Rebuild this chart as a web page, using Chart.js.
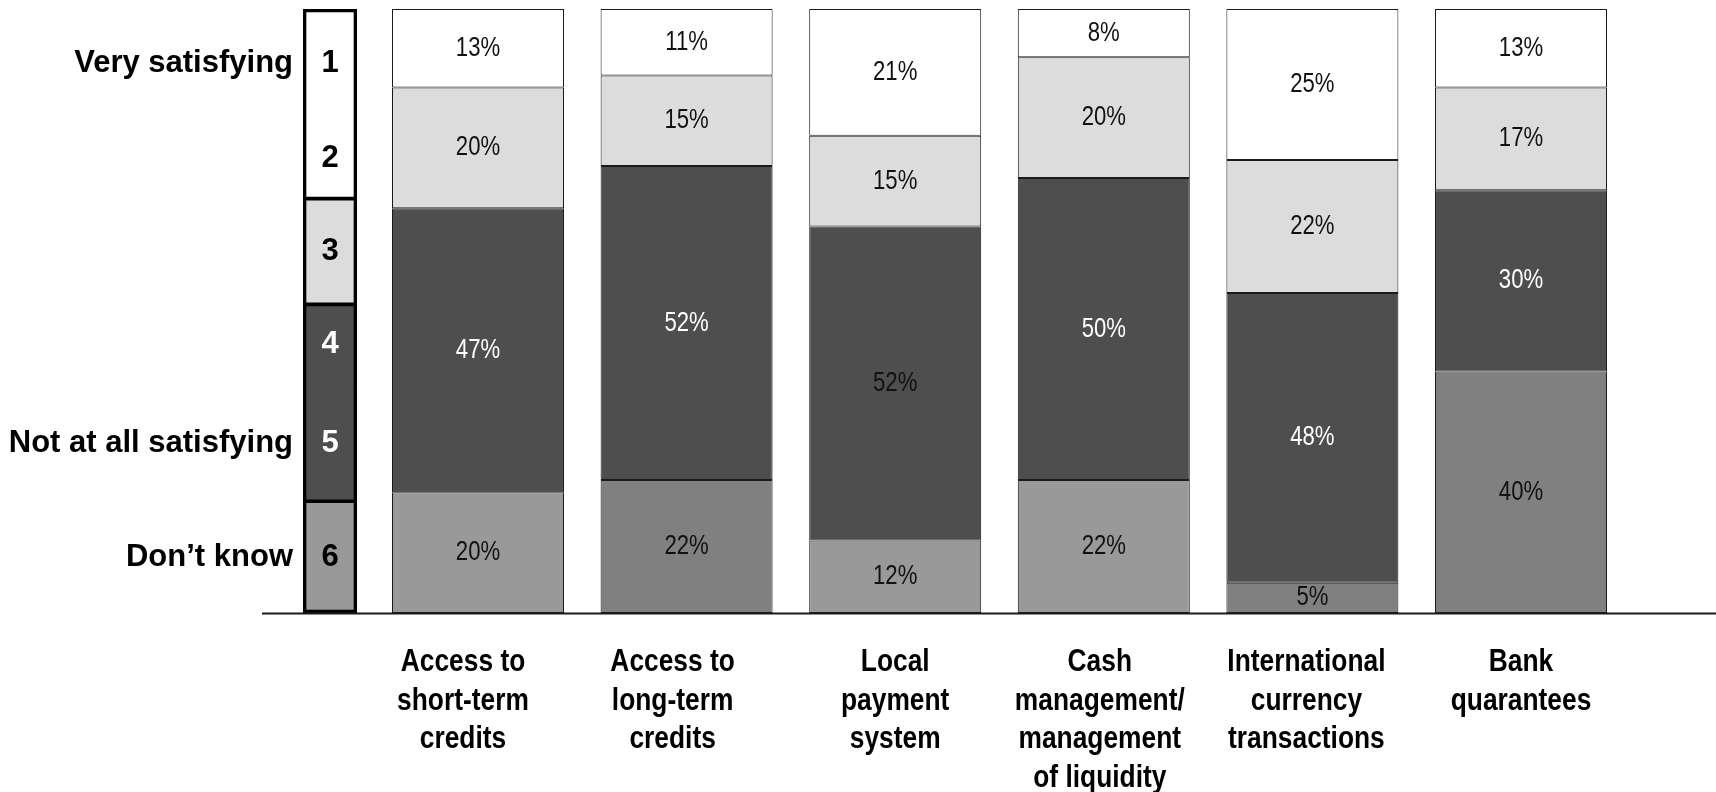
<!DOCTYPE html>
<html>
<head>
<meta charset="utf-8">
<script src="https://cdn.jsdelivr.net/npm/chart.js@4.4.1/dist/chart.umd.min.js"></script>
<style>
  html, body { margin: 0; padding: 0; background: #fff; }
  body { width: 1716px; height: 792px; position: relative; overflow: hidden; }
  #legendChart { position: absolute; left: 0; top: 0; }
  #mainChart { position: absolute; left: 262px; top: 0; }
</style>
</head>
<body>
<canvas id="legendChart" width="400" height="792"></canvas>
<canvas id="mainChart" width="1454" height="792"></canvas>
<script>
// data
const categories = [
  ['Access to', 'short-term', 'credits'],
  ['Access to', 'long-term', 'credits'],
  ['Local', 'payment', 'system'],
  ['Cash', 'management/', 'management', 'of liquidity'],
  ['International', 'currency', 'transactions'],
  ['Bank', 'quarantees']
];
const satisfying = [13, 11, 21, 8, 25, 13];      // ratings 1-2
const neutral = [20, 15, 15, 20, 22, 17];         // rating 3
const notSatisfying = [47, 52, 52, 50, 48, 30];   // ratings 4-5
const dontKnow = [20, 22, 12, 22, 5, 40];         // rating 6

// legend column, top to bottom
const ratingNumbers = ['1', '2', '3', '4', '5', '6'];
const ratingNames = ['Very satisfying', '', '', '', 'Not at all satisfying', 'Don\u2019t know'];
const ratingShares = [18, 13.4, 17.5, 13.4, 19.2, 18.5];
const ratingGroups = [[0, 1], [2], [3, 4], [5]];  // bands with one outline

// styles
const SANS = '"Liberation Sans", Arial, sans-serif';
const NARROW_X = 0.82;   // no narrow face installed, so squeeze the regular one
const CATEGORY_X = 0.85;
const labelShift = [-15, -14, 0, -4, -6, 0];  // the source text boxes sit a bit off-centre
const WHITE = '#ffffff', LIGHT = '#dcdcdc', DARK = '#4e4e4e';
const dontKnowFills = ['#999999', '#808080', '#999999', '#999999', '#808080', '#808080'];
const darkTextColors = ['#fff', '#fff', '#111', '#fff', '#fff', '#fff'];

const legendFills = [WHITE, WHITE, LIGHT, DARK, DARK, '#999999'];
const legendText = ['#000', '#000', '#000', '#fff', '#fff', '#000'];
const frameBorders = [
  {top: 3, left: 3, right: 3, bottom: 1.5},
  {top: 1.5, left: 3, right: 3, bottom: 1.5},
  {top: 1.5, left: 3, right: 3, bottom: 1.5},
  {top: 1.5, left: 3, right: 3, bottom: 3}
];

// centre of each legend band in value units
const ratingCenters = ratingShares.map((s, k) => {
  let below = 0;
  for (let m = k + 1; m < ratingShares.length; m++) below += ratingShares[m];
  return below + s / 2;
});

function squeezed(ctx, text, x, y, sx) {
  ctx.save();
  ctx.translate(x, y);
  ctx.scale(sx, 1);
  ctx.fillText(text, 0, 0);
  ctx.restore();
}

const segmentLabels = {
  id: 'segmentLabels',
  afterDatasetsDraw(chart) {
    const ctx = chart.ctx;
    ctx.save();
    ctx.textAlign = 'center';
    ctx.textBaseline = 'middle';
    chart.data.datasets.forEach((ds, i) => {
      if (ds.noLabel) return;
      ctx.font = ds.labelFont;
      chart.getDatasetMeta(i).data.forEach((bar, j) => {
        ctx.fillStyle = Array.isArray(ds.textColor) ? ds.textColor[j] : ds.textColor;
        const txt = ds.text ? ds.text : ds.data[j] + '%';
        squeezed(ctx, txt, bar.x, (bar.y + bar.base) / 2, ds.squeeze);
      });
    });
    ctx.restore();
  }
};

const categoryLabels = {
  id: 'categoryLabels',
  afterDraw(chart) {
    const {ctx, chartArea} = chart;
    const xScale = chart.scales.x;
    ctx.save();
    ctx.font = 'bold 31px ' + SANS;
    ctx.fillStyle = '#000';
    ctx.textAlign = 'center';
    ctx.textBaseline = 'alphabetic';
    chart.data.labels.forEach((lines, j) => {
      const px = xScale.getPixelForValue(j) + labelShift[j];
      lines.forEach((line, n) => squeezed(ctx, line, px, chartArea.bottom + 58 + n * 38.5, CATEGORY_X));
    });
    ctx.restore();
  }
};

const baseline = {
  id: 'baseline',
  afterDraw(chart) {
    const {ctx, chartArea} = chart;
    ctx.save();
    ctx.strokeStyle = '#1a1a1a';
    ctx.lineWidth = 2;
    ctx.beginPath();
    ctx.moveTo(0, chartArea.bottom + 0.5);
    ctx.lineTo(chart.width, chartArea.bottom + 0.5);
    ctx.stroke();
    ctx.restore();
  }
};

function segment(label, data, fill, textColor) {
  return {
    label: label,
    data: data,
    backgroundColor: fill,
    borderColor: '#1a1a1a',
    borderWidth: 1,
    borderSkipped: false,
    barPercentage: 0.8245,
    categoryPercentage: 1,
    textColor: textColor,
    labelFont: '27px ' + SANS,
    squeeze: NARROW_X
  };
}

new Chart(document.getElementById('mainChart'), {
  type: 'bar',
  data: {
    labels: categories,
    datasets: [
      segment('Don\u2019t know', dontKnow, dontKnowFills, '#111'),
      segment('4-5', notSatisfying, DARK, darkTextColors),
      segment('3', neutral, LIGHT, '#111'),
      segment('1-2', satisfying, WHITE, '#111')
    ]
  },
  options: {
    responsive: false,
    animation: false,
    layout: {padding: {left: 111.7, right: 90.7, top: 9, bottom: 0}},
    plugins: {legend: {display: false}, tooltip: {enabled: false}},
    scales: {
      x: {
        stacked: true,
        grid: {display: false, drawTicks: false},
        border: {display: false},
        ticks: {display: false},
        afterFit(scale) { scale.height = 179; }
      },
      y: {stacked: true, display: false, min: 0, max: 100}
    }
  },
  plugins: [segmentLabels, categoryLabels, baseline]
});

// legend column: outlines first (drawn on top), then the numbered fills, both bottom-up
const legendSets = [];
for (let g = ratingGroups.length - 1; g >= 0; g--) {
  legendSets.push({
    label: 'frame',
    data: [ratingGroups[g].reduce((sum, k) => sum + ratingShares[k], 0)],
    backgroundColor: 'rgba(0,0,0,0)',
    borderColor: '#000',
    borderWidth: frameBorders[g],
    borderSkipped: false,
    stack: 'frame',
    grouped: false,
    barPercentage: 1,
    categoryPercentage: 1,
    noLabel: true
  });
}
for (let k = ratingShares.length - 1; k >= 0; k--) {
  legendSets.push({
    label: ratingNumbers[k],
    data: [ratingShares[k]],
    backgroundColor: legendFills[k],
    borderWidth: 0,
    inflateAmount: 0.5,
    stack: 'fill',
    grouped: false,
    barPercentage: 1,
    categoryPercentage: 1,
    text: ratingNumbers[k],
    textColor: legendText[k],
    labelFont: 'bold 31px ' + SANS,
    squeeze: 1
  });
}

new Chart(document.getElementById('legendChart'), {
  type: 'bar',
  data: {labels: ['rating'], datasets: legendSets},
  options: {
    responsive: false,
    animation: false,
    layout: {padding: {left: 0, right: 43, top: 9, bottom: 179}},
    plugins: {legend: {display: false}, tooltip: {enabled: false}},
    scales: {
      x: {stacked: true, display: false},
      y: {
        stacked: true,
        min: 0,
        max: 100,
        grid: {display: false, drawTicks: false},
        border: {display: false},
        afterFit(scale) {
          scale.width = 303;
          scale.paddingTop = 0;
          scale.paddingBottom = 0;
        },
        afterBuildTicks(scale) { scale.ticks = ratingCenters.map(v => ({value: v})); },
        ticks: {
          padding: 10,
          color: '#000',
          autoSkip: false,
          font: {family: SANS, size: 31, weight: 'bold'},
          callback: (v, i) => ratingNames[i]
        }
      }
    }
  },
  plugins: [segmentLabels]
});
</script>
</body>
</html>
